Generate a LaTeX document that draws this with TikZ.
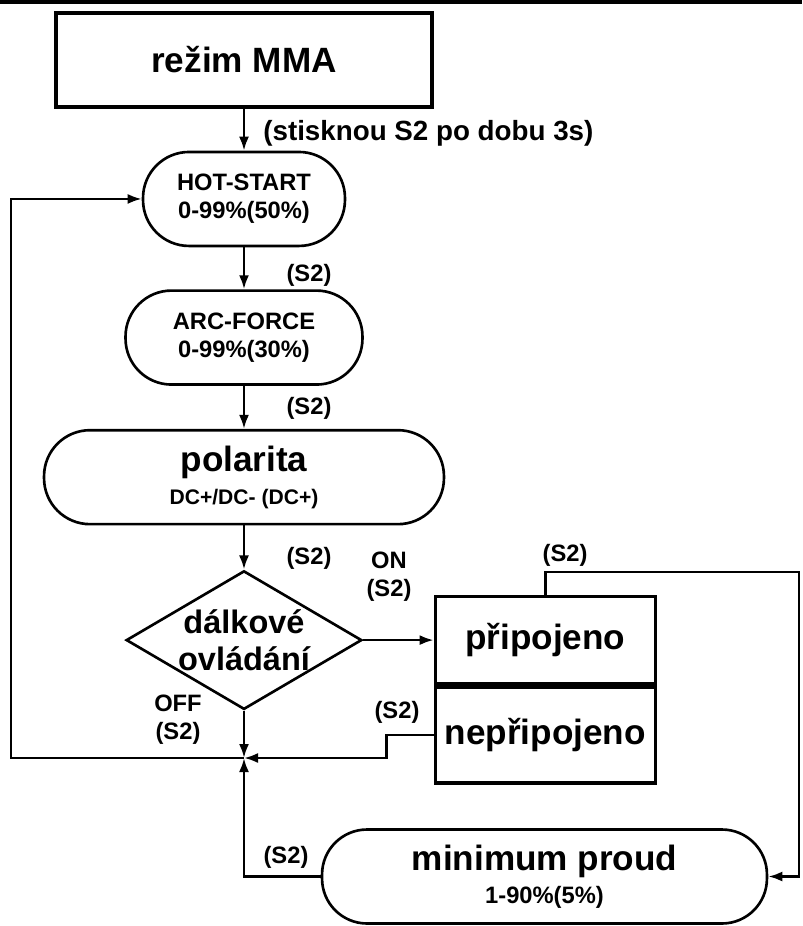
\documentclass[tikz,border=0pt]{standalone}
\usepackage{fontspec}
\setmainfont{Liberation Sans}
\usetikzlibrary{arrows.meta, positioning, shapes.geometric}
\newcommand{\bigtx}{\fontsize{20}{23}\selectfont\bfseries}
\newcommand{\smtx}{\fontsize{13.5}{16}\selectfont\bfseries}

\begin{document}
\begin{tikzpicture}[
  x=0.02cm, y=-0.02cm,
  box/.style={draw, line width=1.9pt, minimum width=#1, inner sep=0pt, font=\bigtx},
  pill/.style={draw, line width=1.5pt, rounded corners=0.92cm, minimum width=#1, minimum height=1.88cm, inner sep=0pt, align=center, font=\smtx},
  cond/.style={draw, diamond, aspect=1.7, line width=1.5pt, minimum width=4.66cm, minimum height=2.74cm, inner sep=0pt, align=center, font=\fontsize{18.5}{21}\selectfont\bfseries},
  lbl/.style={font=\smtx, inner sep=0pt},
  arr/.style={-{Latex[length=2.8mm, width=2mm]}, line width=1.4pt},
  ln/.style={line width=1.4pt}
]
\useasboundingbox (0,0) rectangle (802,926);
\draw[line width=3pt] (0,1) -- (802,1);

\node[box=7.52cm, minimum height=1.88cm] (mma) at (244,60) {režim MMA};
\node[pill=4.04cm, below=0.84cm of mma] (hot) {HOT-START\\0-99\%(50\%)};
\node[pill=4.74cm, below=0.84cm of hot] (arc) {ARC-FORCE\\0-99\%(30\%)};
\node[pill=8cm, below=0.86cm of arc] (pol) {{\bigtx polarita}\\[3pt]{\fontsize{12}{14}\selectfont DC+/DC- (DC+)}};
\node[cond, below=0.88cm of pol] (dia) {dálkové\\ovládání};
\node[box=4.4cm, minimum height=1.74cm, right=1.41cm of dia] (conn) {připojeno};
\node[box=4.4cm, minimum height=1.92cm, below=0pt of conn] (disc) {nepřipojeno};
\node[pill=8.9cm, rounded corners=0.9cm] (minp) at (544.5,876.5) {{\bigtx minimum proud}\\[3pt]1-90\%(5\%)};

\coordinate (j) at (244,758);
\coordinate (lft) at (11,758);
\coordinate (rt) at (799,572);

\node[lbl, font=\fontsize{15.8}{18}\selectfont\bfseries, anchor=west] (press) at (263,133) {(stisknou S2 po dobu 3s)};
\node[lbl] (s2a) at (309,275) {(S2)};
\node[lbl] (s2b) at (309,408) {(S2)};
\node[lbl] (s2c) at (309,558) {(S2)};
\node[lbl, align=center] (on) at (389,577) {ON\\(S2)};
\node[lbl, align=center] (off) at (178,720) {OFF\\(S2)};
\node[lbl] (s2d) at (397,712) {(S2)};
\node[lbl] (s2e) at (565,555) {(S2)};
\node[lbl] (s2f) at (286,857) {(S2)};

\draw[arr] (mma) -- (hot);
\draw[arr] (hot) -- (arc);
\draw[arr] (arc) -- (pol);
\draw[arr] (pol) -- (dia);
\draw[arr] (dia) -- (conn);
\draw[arr] (dia) -- (j);
\draw[arr] (disc.west) -- ++(-47,0) |- (j);
\draw[arr] (minp.west) -| (j);
\draw[arr] (j) -- (lft) |- (hot.west);
\draw[arr] (conn.north) |- (rt) |- (minp.east);
\end{tikzpicture}
\end{document}
